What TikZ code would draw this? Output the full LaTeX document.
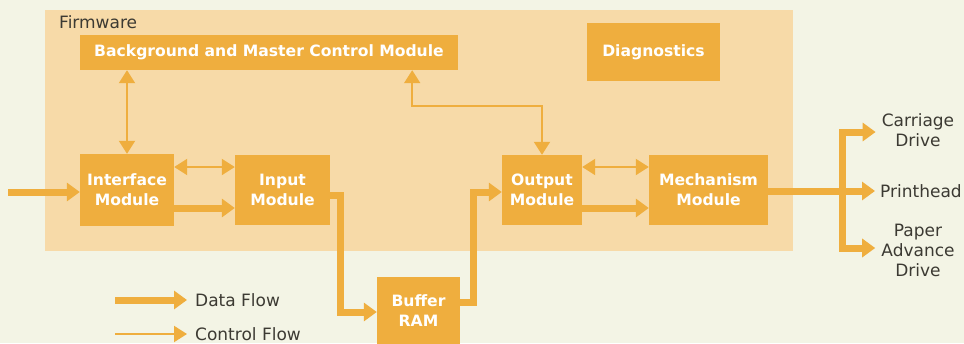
\documentclass[tikz,border=0pt]{standalone}
\usepackage{fontspec}
\setmainfont{DejaVu Sans}
\usepackage{xcolor}
\usepackage{tikz}
\usetikzlibrary{arrows.meta,calc,positioning}

\definecolor{paperbg}{HTML}{F3F4E5}
\definecolor{panel}{HTML}{F7DAA8}
\definecolor{amber}{HTML}{EFAE3E}
\definecolor{ink}{HTML}{3C3A33}

\tikzset{
    module/.style={rectangle, fill=amber, text=white, align=center, inner sep=2pt, font=\bfseries\fontsize{15.6}{20}\selectfont},
    textlabel/.style={text=ink, align=center, inner sep=2pt, font=\fontsize{17}{20}\selectfont},
    dataflow/.style={draw=amber, line width=7pt, -{Triangle[length=13pt,width=18pt]}},
    ctrlflow/.style={draw=amber, line width=2pt, -{Triangle[length=13pt,width=16pt]}},
    ctrlboth/.style={ctrlflow, {Triangle[length=13pt,width=16pt]}-{Triangle[length=13pt,width=16pt]}},
}

\begin{document}
\begin{tikzpicture}[x=1pt, y=-1pt]
    \useasboundingbox (0,0) rectangle (964,343);
    \fill[paperbg] (0,0) rectangle (964,343);

    % Firmware panel
    \node[rectangle, fill=panel, minimum width=748pt, minimum height=241pt] (firmware) at (419,130.5) {};
    \node[textlabel, anchor=west, font=\fontsize{17}{20}\selectfont] (fwlabel) at (57,22) {Firmware};

    % Modules
    \node[module, minimum width=378pt, minimum height=35pt] (bgctl) at (269,52.5) {Background and Master Control Module};
    \node[module, minimum width=133pt, minimum height=58pt] (diag) at (653.5,52) {Diagnostics};
    \node[module, minimum width=94pt, minimum height=72pt] (iface) at (127,190) {Interface\\Module};
    \node[module, minimum width=95pt, minimum height=70pt] (input) at (282.5,190) {Input\\Module};
    \node[module, minimum width=80pt, minimum height=70pt] (output) at (542,190) {Output\\Module};
    \node[module, minimum width=119pt, minimum height=70pt] (mech) at (708.5,190) {Mechanism\\Module};
    \node[module, minimum width=83pt, minimum height=68pt] (buffer) at (418.5,311) {Buffer\\RAM};

    % Outputs
    \node[textlabel] (carriage) at (918,130) {Carriage\\Drive};
    \node[textlabel, anchor=west] (printhead) at (878,191) {Printhead};
    \node[textlabel] (paper) at (918,250) {Paper\\Advance\\Drive};
    \coordinate (split) at (842,191);

    % Legend
    \node[textlabel, anchor=west] (datalbl) at (193,300) {Data Flow};
    \node[textlabel, anchor=west] (ctrllbl) at (193,334) {Control Flow};
    \coordinate (datatail) at (115,300);
    \coordinate (ctrltail) at (115,334);
    \coordinate (src) at (8,192);

    % Data flow
    \draw[dataflow] (src) -- (src -| iface.west);
    \draw[dataflow] ($(iface.east)+(0,18)$) -- ($(input.west)+(0,18)$);
    \draw[dataflow] ($(input.east)+(0,5)$) -- ++(10,0) |- ($(buffer.west)+(0,1)$);
    \draw[dataflow] ($(buffer.east)+(0,-9)$) -- ++(13,0) |- ($(output.west)+(0,2)$);
    \draw[dataflow] ($(output.east)+(0,18)$) -- ($(mech.west)+(0,18)$);
    \draw[dataflow] (mech.east |- split) -- ($(printhead.west)+(-3,0)$);
    \draw[dataflow] (split) |- ($(carriage.west)+(-4,2)$);
    \draw[dataflow] (split) |- ($(paper.west)+(-4,-2)$);

    % Control flow
    \draw[ctrlboth] (bgctl.south -| iface.north) -- (iface.north);
    \draw[ctrlboth] ($(iface.east)+(0,-23)$) -- ($(input.west)+(0,-23)$);
    \draw[ctrlboth] (output.north) -- ++(0,-49) -| ($(bgctl.south east)+(-46,0)$);
    \draw[ctrlboth] ($(output.east)+(0,-23)$) -- ($(mech.west)+(0,-23)$);

    % Legend arrows
    \draw[dataflow] (datatail) -- ($(datalbl.west)+(-6,0)$);
    \draw[ctrlflow] (ctrltail) -- ($(ctrllbl.west)+(-6,0)$);
\end{tikzpicture}
\end{document}
